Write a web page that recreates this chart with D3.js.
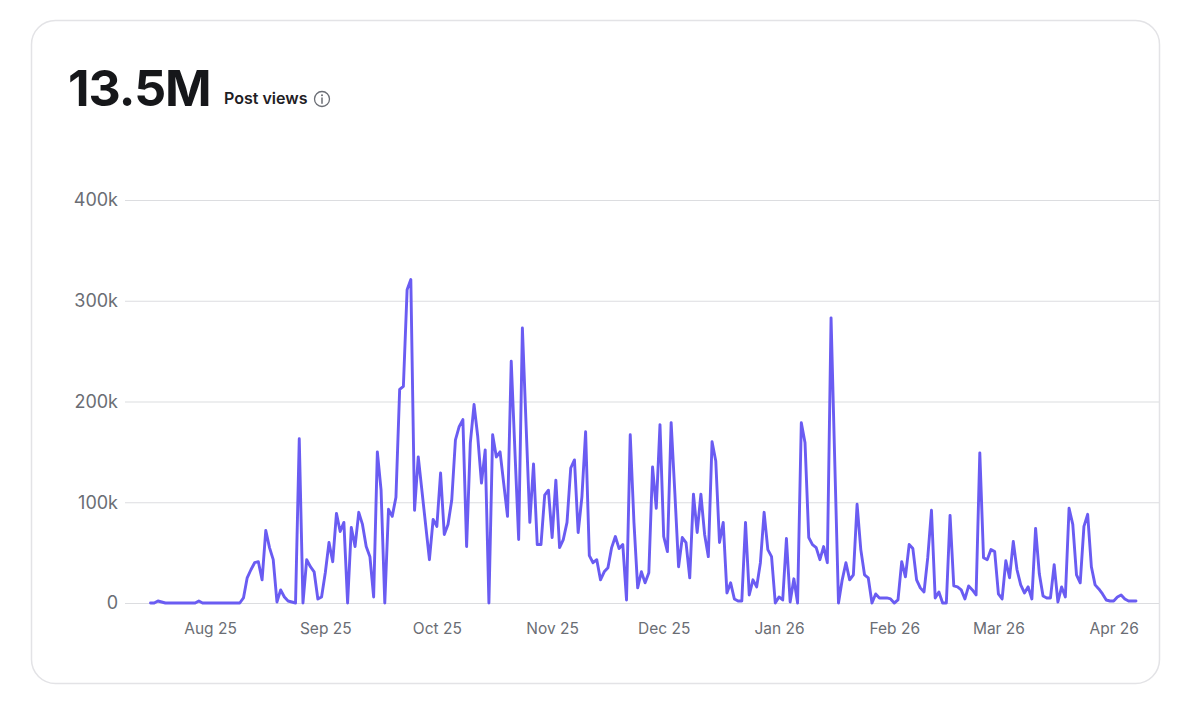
<!DOCTYPE html>
<html>
<head>
<meta charset="utf-8">
<script src="https://cdn.jsdelivr.net/npm/d3@7"></script>
<style>
  html, body { margin: 0; padding: 0; background: #ffffff; }
  svg { display: block; }
</style>
</head>
<body>
<svg id="chart" width="1200" height="703"></svg>
<script>
// ---- data (daily post views, thousands) ----
const startDate = "2025-07-16";
const viewsK = [
  0,0,2,1,0, 0,0,0,0,0, 0,0,0,2,0, 0,0,0,0,0, 0,0,0,0,0,
  5,25,33,40,41, 23,72,55,43,1, 13,6,2,1,0, 163,0,43,36,31, 4,6,
  30,60,41,89,71, 80,0,75,56,90, 78,56,46,6,150, 112,0,93,86,105, 212,215,311,321,
  92,145,111,77,43,83, 76,129,68,78,102, 162,175,182,56,159, 197,165,119,152,0, 167,145,150,
  118,86,240,150,63, 273,176,80,138,58, 58,107,112,65,122, 55,63,80,134,142, 70,105,170,47,40, 43,
  23,31,35,55,66, 54,58,3,167,80, 15,31,20,30,135, 94,177,66,51,179, 109,36,65,
  60,25,108,70,108, 68,46,160,141,60, 80,10,20,4,2, 2,80,8,23,16, 40,90,53,46,0,
  6,3,64,1,24, 0,179,159,65,58, 55,43,56,40,283, 140,0,23,40,23, 28,98,53,28,
  25,0,9,5,5,5, 4,0,3,41,26, 58,54,23,15,11, 45,92,5,11,0, 0,87,17,
  16,13,4,17,13, 8,149,45,43,53, 51,9,4,42,25, 61,33,18,10,16, 4,74,29,7,
  5,5,38,1,16, 6,94,78,28,20, 76,88,36,18,14, 9,3,2,2,6, 8,4,2,2,2
];
const yTickValues = [0, 100000, 200000, 300000, 400000];
const yTickLabels = ["0", "100k", "200k", "300k", "400k"];
const xTickDates = ["2025-08-01","2025-09-01","2025-10-01","2025-11-01","2025-12-01","2026-01-01","2026-02-01","2026-03-01","2026-04-01"];
const xTickLabels = ["Aug 25","Sep 25","Oct 25","Nov 25","Dec 25","Jan 26","Feb 26","Mar 26","Apr 26"];
const totalLabel = "13.5M";
const metricLabel = "Post views";

// ---- build ----
const parse = d3.timeParse("%Y-%m-%d");
const start = parse(startDate);
const data = viewsK.map((v, i) => ({ date: d3.timeDay.offset(start, i), value: v * 1000 }));
const tickDates = xTickDates.map(parse);

const svg = d3.select("#chart");
const FONT = "Inter, 'Liberation Sans', Arial, sans-serif";

// card
svg.append("rect")
  .attr("x", 31.5).attr("y", 20.5)
  .attr("width", 1128).attr("height", 663)
  .attr("rx", 24).attr("ry", 24)
  .attr("fill", "#ffffff")
  .attr("stroke", "#e3e3e6").attr("stroke-width", 1.5);

// header
svg.append("text")
  .attr("x", 68).attr("y", 106)
  .attr("font-family", FONT).attr("font-weight", 700)
  .attr("font-size", 50).attr("letter-spacing", -1)
  .attr("fill", "#16171a")
  .text(totalLabel);
svg.append("text")
  .attr("x", 224).attr("y", 104)
  .attr("font-family", FONT).attr("font-weight", 600)
  .attr("font-size", 16)
  .attr("fill", "#1f2024")
  .text(metricLabel);
const info = svg.append("g").attr("transform", "translate(322,99)");
info.append("circle").attr("r", 7.5).attr("fill", "none").attr("stroke", "#6b6e75").attr("stroke-width", 1.3);
info.append("line").attr("x1", 0).attr("x2", 0).attr("y1", -1).attr("y2", 4.2).attr("stroke", "#6b6e75").attr("stroke-width", 1.5).attr("stroke-linecap", "round");
info.append("circle").attr("cx", 0).attr("cy", -3.8).attr("r", 1).attr("fill", "#6b6e75");

// scales
const x = d3.scaleTime()
  .domain(d3.extent(data, d => d.date))
  .range([150.5, 1136]);
const y = d3.scaleLinear()
  .domain([0, 400000])
  .range([603, 200]);

// y grid + labels
const yAxis = d3.axisLeft(y)
  .tickValues(yTickValues)
  .tickFormat((d, i) => yTickLabels[i])
  .tickSize(-(1159 - 125))
  .tickPadding(7);
const gy = svg.append("g").attr("transform", "translate(125,0)").call(yAxis);
gy.select(".domain").remove();
gy.selectAll(".tick line").attr("stroke", "#dcdde0").attr("stroke-width", 1.2);
gy.selectAll(".tick text")
  .attr("font-family", FONT).attr("font-size", 18)
  .attr("fill", "#6a6d74");

// x axis labels
const xAxis = d3.axisBottom(x)
  .tickValues(tickDates)
  .tickFormat((d, i) => xTickLabels[i])
  .tickSize(0)
  .tickPadding(20);
const gx = svg.append("g").attr("transform", "translate(0,603)").call(xAxis);
gx.select(".domain").remove();
gx.selectAll(".tick text")
  .attr("font-family", FONT).attr("font-size", 15.5)
  .attr("fill", "#6a6d74");

// line
const line = d3.line()
  .x(d => x(d.date))
  .y(d => y(d.value))
  .curve(d3.curveLinear);
svg.append("path")
  .datum(data)
  .attr("d", line)
  .attr("fill", "none")
  .attr("stroke", "#6a5cf2")
  .attr("stroke-width", 2.9)
  .attr("stroke-linejoin", "round")
  .attr("stroke-linecap", "round");
</script>
</body>
</html>
